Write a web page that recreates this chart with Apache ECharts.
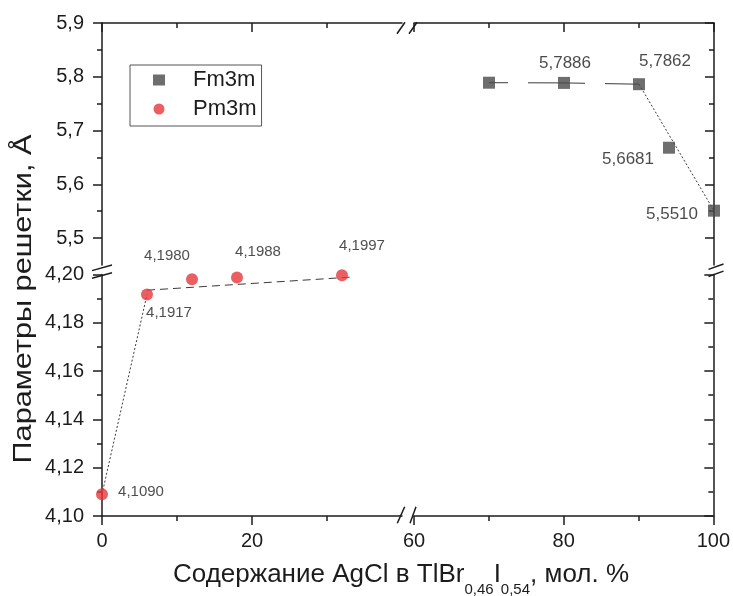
<!DOCTYPE html>
<html>
<head>
<meta charset="utf-8">
<script src="https://cdn.jsdelivr.net/npm/echarts@6/dist/echarts.min.js"></script>
<style>
  html, body { margin: 0; padding: 0; background: #fff; }
  #chart { width: 733px; height: 596px; }
</style>
</head>
<body>
<div id="chart"></div>
<script>
// AgCl content, mol. %, and lattice parameters, Å
const pm3mX = [0, 6, 12, 18, 32];
const pm3mY = [4.1090, 4.1917, 4.1980, 4.1988, 4.1997];
const fm3mX = [70, 80, 90, 94, 100];
const fm3mY = [5.7890, 5.7886, 5.7862, 5.6681, 5.5510];
const fm3mLabelled = [false, true, true, true, true];

// guide lines through the two phases
const pmRiseX = [0, 6];
const pmRiseY = [4.1090, 4.1917];
const pmTrendX = [6, 33.6];
const pmTrendY = [4.1935, 4.1990];
const fmFlatX = [70, 80, 90];
const fmFlatY = [5.7890, 5.7886, 5.7862];
const fmDropX = [90, 100];
const fmDropY = [5.7862, 5.5510];

// tick values of the broken axes
const xTicksLeft = [0, 20];
const xMinorLeft = [10, 30];
const xTicksRight = [60, 80, 100];
const xMinorRight = [70, 90];
const yTicksLow = [4.10, 4.12, 4.14, 4.16, 4.18, 4.20];
const yMinorLow = [4.11, 4.13, 4.15, 4.17, 4.19];
const yTicksHigh = [5.5, 5.6, 5.7, 5.8, 5.9];
const yMinorHigh = [5.55, 5.65, 5.75, 5.85];

// visible ranges of the axis segments
const xRangeLeft = [0, 40];
const xRangeRight = [60, 100];
const yRangeLow = [4.10, 4.20];
const yRangeHigh = [5.45, 5.90];

// label shifts (px) from each point centre
const pmLabelShift = [[39, -2], [22, 18], [-25, -23], [21, -26], [20, -29]];
const fmLabelShift = [null, [1, -20], [26, -23], [-41, 12], [-42, 4]];

const font = '"Liberation Sans", Arial, sans-serif';
const ink = '#1c1c1c';
const G = { left: 102, xBreakL: 402, xBreakR: 414, right: 714, top: 23, yBreakT: 265, yBreakB: 274.5, bottom: 516 };

const comma = (v, d) => v.toFixed(d).replace('.', ',');
const zip = (xs, ys) => xs.map((x, i) => [x, ys[i]]);

function valueAxis(gridIndex, position, range, ticks, o) {
  const major = !!o.major;
  return {
    type: 'value', gridIndex, position, min: range[0], max: range[1],
    axisLine: { show: major, onZero: false, lineStyle: { color: ink, width: 1.5 } },
    axisTick: { show: true, inside: !!o.inside, length: major ? 9 : 5, customValues: ticks,
                lineStyle: { color: ink, width: 1.5 } },
    axisLabel: o.labels
      ? { show: true, customValues: o.labels, margin: o.margin, fontSize: 20, color: ink, fontFamily: font,
          formatter: v => comma(v, o.decimals) }
      : { show: false },
    splitLine: { show: false },
    minorTick: { show: false },
    minorSplitLine: { show: false }
  };
}

const grids = [
  { left: G.left, top: G.yBreakB, width: G.xBreakL - G.left, height: G.bottom - G.yBreakB },   // lower left
  { left: G.xBreakR, top: G.yBreakB, width: G.right - G.xBreakR, height: G.bottom - G.yBreakB }, // lower right
  { left: G.left, top: G.top, width: G.xBreakL - G.left, height: G.yBreakT - G.top },           // upper left
  { left: G.xBreakR, top: G.top, width: G.right - G.xBreakR, height: G.yBreakT - G.top }        // upper right
];

const xAxes = [
  valueAxis(0, 'bottom', xRangeLeft, xTicksLeft, { major: true, labels: xTicksLeft, margin: 15, decimals: 0 }),
  valueAxis(0, 'bottom', xRangeLeft, xMinorLeft, {}),
  valueAxis(1, 'bottom', xRangeRight, xTicksRight, { major: true, labels: xTicksRight, margin: 15, decimals: 0 }),
  valueAxis(1, 'bottom', xRangeRight, xMinorRight, {}),
  valueAxis(2, 'top', xRangeLeft, xTicksLeft, { major: true, inside: true }),
  valueAxis(2, 'top', xRangeLeft, xMinorLeft, { inside: true }),
  valueAxis(3, 'top', xRangeRight, xTicksRight, { major: true, inside: true }),
  valueAxis(3, 'top', xRangeRight, xMinorRight, { inside: true })
];

const yAxes = [
  valueAxis(0, 'left', yRangeLow, yTicksLow, { major: true, labels: yTicksLow, margin: 18, decimals: 2 }),
  valueAxis(0, 'left', yRangeLow, yMinorLow, {}),
  valueAxis(1, 'right', yRangeLow, yTicksLow, { major: true, inside: true }),
  valueAxis(1, 'right', yRangeLow, yMinorLow, { inside: true }),
  valueAxis(2, 'left', yRangeHigh, yTicksHigh, { major: true, labels: yTicksHigh, margin: 18, decimals: 1 }),
  valueAxis(2, 'left', yRangeHigh, yMinorHigh, {}),
  valueAxis(3, 'right', yRangeHigh, yTicksHigh, { major: true, inside: true }),
  valueAxis(3, 'right', yRangeHigh, yMinorHigh, { inside: true })
];

function guide(xIdx, xs, ys, dash, offset) {
  return {
    type: 'line', xAxisIndex: xIdx, yAxisIndex: xIdx, data: zip(xs, ys),
    symbol: 'none', showSymbol: false, silent: true, clip: false, z: 1,
    lineStyle: { color: '#3a3a3a', width: 1, type: dash, dashOffset: offset || 0 }
  };
}

const pmData = zip(pm3mX, pm3mY).map((v, i) => ({
  value: v,
  label: { show: true, position: 'inside', offset: pmLabelShift[i] }
}));
const fmData = zip(fm3mX, fm3mY).map((v, i) => ({
  value: v,
  label: fm3mLabelled[i] ? { show: true, position: 'inside', offset: fmLabelShift[i] } : { show: false }
}));

// "//" marks where the axes are broken
function slash(cx, cy, dx, dy) {
  return { type: 'line', silent: true, z: 50,
           shape: { x1: cx - dx, y1: cy + dy, x2: cx + dx, y2: cy - dy },
           style: { stroke: ink, lineWidth: 1.5 } };
}
const breakMarks = [
  slash(G.xBreakL - 1, G.bottom - 1, 3.7, 8.3), slash(G.xBreakR - 1, G.bottom - 1, 3, 8.3),
  slash(G.xBreakL - 1, G.top + 5, 4, 5.7), slash(G.xBreakR - 1, G.top + 5, 4, 5.7),
  slash(G.left, G.yBreakT + 2.8, 10, 2.8), slash(G.left, G.yBreakB + 1, 10, 2.8),
  slash(G.right + 2, G.yBreakT + 1.7, 7.5, 2.7), slash(G.right + 2, G.yBreakB - 0.7, 7.5, 2.7)
];

const chart = echarts.init(document.getElementById('chart'));
chart.setOption({
  animation: false,
  backgroundColor: '#ffffff',
  textStyle: { fontFamily: font },
  grid: grids,
  xAxis: xAxes,
  yAxis: yAxes,
  legend: {
    left: 130, top: 65, orient: 'vertical',
    borderColor: '#555', borderWidth: 1,
    padding: [4, 5, 6, 23],
    itemWidth: 12, itemHeight: 11, itemGap: 7,
    textStyle: { fontSize: 22, color: ink, fontFamily: font, padding: [0, 0, 0, 23] },
    data: [{ name: 'Fm3m', icon: 'rect' }, { name: 'Pm3m', icon: 'circle' }]
  },
  series: [
    guide(0, pmRiseX, pmRiseY, [2, 2]),
    guide(0, pmTrendX, pmTrendY, [8, 5]),
    guide(6, fmFlatX, fmFlatY, [57, 20], 38),
    guide(6, fmDropX, fmDropY, [2, 2]),
    {
      type: 'scatter', name: 'Fm3m', xAxisIndex: 6, yAxisIndex: 6, clip: false, z: 3,
      symbol: 'rect', symbolSize: 12, itemStyle: { color: '#4a4a4a' },
      label: { fontSize: 17, color: ink, fontFamily: font, formatter: p => comma(p.value[1], 4) },
      data: fmData
    },
    {
      type: 'scatter', name: 'Pm3m', xAxisIndex: 0, yAxisIndex: 0, clip: false, z: 3,
      symbol: 'circle', symbolSize: 12, itemStyle: { color: '#e6363b' },
      label: { fontSize: 15, color: '#222', fontFamily: font, formatter: p => comma(p.value[1], 4) },
      data: pmData
    }
  ],
  graphic: breakMarks.concat([
    {
      type: 'text', x: 24, y: 299, rotation: Math.PI / 2, scaleX: 1.18, silent: true,
      style: { text: 'Параметры решетки, Å', font: '26px ' + font, fill: ink,
               textAlign: 'center', textVerticalAlign: 'middle' }
    },
    {
      type: 'text', x: 401, y: 576, silent: true,
      style: {
        text: '{m|Содержание AgCl в TlBr}{s|0,46}{m|I}{s|0,54}{m|, мол. %}',
        textAlign: 'center', textVerticalAlign: 'middle',
        rich: {
          m: { fontSize: 26, fontFamily: font, fill: ink, lineHeight: 28, verticalAlign: 'top' },
          s: { fontSize: 15, fontFamily: font, fill: ink, lineHeight: 16, padding: [20, 0, 0, 0], verticalAlign: 'top' }
        }
      }
    }
  ])
});
</script>
</body>
</html>
